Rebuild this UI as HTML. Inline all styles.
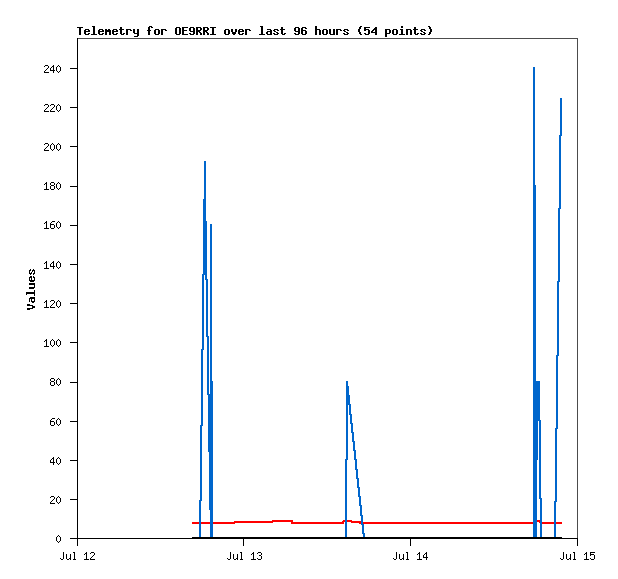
<!DOCTYPE html>
<html><head><meta charset="utf-8"><title>Telemetry for OE9RRI</title>
<style>html,body{margin:0;padding:0;background:#fff;font-family:"Liberation Sans",sans-serif}svg{display:block}</style>
</head><body>
<svg width="618" height="579" viewBox="0 0 618 579" shape-rendering="crispEdges">
<title>Telemetry for OE9RRI over last 96 hours (54 points)</title>
<desc>Line chart. Y axis "Values" 0-240 step 20. X axis Jul 12, Jul 13, Jul 14, Jul 15. Series: blue, red, black.</desc>
<rect width="618" height="579" fill="#ffffff"/>
<path fill="#000000" d="M428 26h2v1h-2zM260 26h3v1h-3zM92 26h3v1h-3zM360 26h2v1h-2zM149 26h3v1h-3zM401 26h2v2h-2zM364 27h6v1h-6zM302 27h4v1h-4zM203 27h5v1h-5zM182 27h6v1h-6zM77 27h6v1h-6zM210 27h6v1h-6zM190 27h4v1h-4zM295 27h4v1h-4zM375 27h2v1h-2zM176 27h4v1h-4zM196 27h5v1h-5zM151 27h2v1h-2zM315 26h2v3h-2zM120 27h2v2h-2zM281 27h2v2h-2zM414 27h2v2h-2zM359 27h2v2h-2zM429 27h2v2h-2zM374 28h3v1h-3zM364 28h2v1h-2zM305 28h2v1h-2zM148 27h2v3h-2zM207 28h2v2h-2zM203 28h2v2h-2zM200 28h2v2h-2zM301 28h2v2h-2zM182 28h2v2h-2zM196 28h2v2h-2zM105 29h2v1h-2zM99 29h4v1h-4zM413 29h5v1h-5zM385 29h5v1h-5zM393 29h4v1h-4zM113 29h4v1h-4zM161 29h5v1h-5zM280 29h5v1h-5zM274 29h4v1h-4zM155 29h4v1h-4zM421 29h4v1h-4zM336 29h5v1h-5zM344 29h4v1h-4zM364 29h5v1h-5zM406 29h5v1h-5zM126 29h5v1h-5zM245 29h5v1h-5zM239 29h4v1h-4zM225 29h4v1h-4zM373 29h4v1h-4zM108 29h2v1h-2zM267 29h4v1h-4zM315 29h5v1h-5zM323 29h4v1h-4zM85 29h4v1h-4zM119 29h5v1h-5zM400 29h3v1h-3zM193 28h2v3h-2zM294 28h2v3h-2zM189 28h2v3h-2zM298 28h2v3h-2zM165 30h2v1h-2zM372 30h2v1h-2zM340 30h2v1h-2zM102 30h2v1h-2zM88 30h2v1h-2zM98 30h2v1h-2zM249 30h2v1h-2zM364 30h2v1h-2zM277 30h2v1h-2zM116 30h2v1h-2zM147 30h4v1h-4zM203 30h5v1h-5zM84 30h2v1h-2zM424 30h2v1h-2zM273 30h2v1h-2zM112 30h2v1h-2zM130 30h2v1h-2zM420 30h2v1h-2zM347 30h2v1h-2zM301 30h5v1h-5zM182 30h5v1h-5zM242 30h2v1h-2zM196 30h5v1h-5zM270 30h2v1h-2zM343 30h2v1h-2zM238 30h2v1h-2zM358 29h2v3h-2zM235 29h2v3h-2zM231 29h2v3h-2zM430 29h2v3h-2zM105 30h6v2h-6zM375 30h2v2h-2zM98 31h6v1h-6zM84 31h6v1h-6zM112 31h6v1h-6zM196 31h4v1h-4zM267 31h5v1h-5zM371 31h2v1h-2zM190 31h5v1h-5zM295 31h5v1h-5zM238 31h6v1h-6zM203 31h4v1h-4zM274 31h2v1h-2zM421 31h2v1h-2zM344 31h2v1h-2zM137 29h2v4h-2zM133 29h2v4h-2zM389 30h2v3h-2zM385 30h2v3h-2zM276 32h2v1h-2zM423 32h2v1h-2zM199 32h2v1h-2zM346 32h2v1h-2zM371 32h6v1h-6zM206 32h2v1h-2zM93 27h2v7h-2zM261 27h2v7h-2zM179 28h2v6h-2zM212 28h2v6h-2zM175 28h2v6h-2zM333 29h2v5h-2zM329 29h2v5h-2zM414 30h2v4h-2zM326 30h2v4h-2zM120 30h2v4h-2zM281 30h2v4h-2zM322 30h2v4h-2zM368 30h2v4h-2zM392 30h2v4h-2zM396 30h2v4h-2zM401 30h2v4h-2zM158 30h2v4h-2zM154 30h2v4h-2zM228 30h2v4h-2zM224 30h2v4h-2zM305 31h2v3h-2zM301 31h2v3h-2zM182 31h2v3h-2zM232 32h4v2h-4zM193 32h2v2h-2zM266 32h2v2h-2zM98 32h2v2h-2zM84 32h2v2h-2zM359 32h2v2h-2zM112 32h2v2h-2zM429 32h2v2h-2zM270 32h2v2h-2zM238 32h2v2h-2zM298 32h2v2h-2zM284 33h2v1h-2zM294 33h2v1h-2zM385 33h5v1h-5zM189 33h2v1h-2zM102 33h2v1h-2zM88 33h2v1h-2zM364 33h2v1h-2zM277 33h2v1h-2zM116 33h2v1h-2zM134 33h5v1h-5zM424 33h2v1h-2zM273 33h2v1h-2zM420 33h2v1h-2zM347 33h2v1h-2zM242 33h2v1h-2zM123 33h2v1h-2zM343 33h2v1h-2zM417 33h2v1h-2zM79 28h2v7h-2zM161 30h2v5h-2zM336 30h2v5h-2zM126 30h2v5h-2zM245 30h2v5h-2zM406 30h2v5h-2zM319 30h2v5h-2zM315 30h2v5h-2zM410 30h2v5h-2zM148 31h2v4h-2zM105 32h2v3h-2zM203 32h2v3h-2zM196 32h2v3h-2zM109 32h2v3h-2zM207 33h2v2h-2zM200 33h2v2h-2zM375 33h2v2h-2zM99 34h4v1h-4zM330 34h5v1h-5zM415 34h3v1h-3zM302 34h4v1h-4zM113 34h4v1h-4zM121 34h3v1h-3zM393 34h4v1h-4zM274 34h4v1h-4zM155 34h4v1h-4zM259 34h6v1h-6zM282 34h3v1h-3zM421 34h4v1h-4zM344 34h4v1h-4zM267 34h5v1h-5zM428 34h2v1h-2zM182 34h6v1h-6zM360 34h2v1h-2zM239 34h4v1h-4zM225 34h4v1h-4zM210 34h6v1h-6zM91 34h6v1h-6zM399 34h6v1h-6zM323 34h4v1h-4zM190 34h4v1h-4zM295 34h4v1h-4zM233 34h2v1h-2zM176 34h4v1h-4zM85 34h4v1h-4zM365 34h4v1h-4zM137 34h2v2h-2zM385 34h2v3h-2zM134 36h4v1h-4zM53 65h1v1h-1zM58 65h1v1h-1zM45 65h3v1h-3zM44 66h1v1h-1zM57 66h1v1h-1zM59 66h1v1h-1zM52 66h2v1h-2zM77 38h1v30h-1zM48 66h1v2h-1zM51 67h1v1h-1zM47 68h1v1h-1zM70 68h8v1h-8zM53 67h1v3h-1zM50 68h1v2h-1zM46 69h1v1h-1zM56 67h1v4h-1zM60 67h1v4h-1zM45 70h1v1h-1zM50 70h5v1h-5zM44 71h1v1h-1zM57 71h1v1h-1zM59 71h1v1h-1zM53 71h1v2h-1zM58 72h1v1h-1zM44 72h5v1h-5zM51 104h3v1h-3zM58 104h1v1h-1zM45 104h3v1h-3zM44 105h1v1h-1zM57 105h1v1h-1zM50 105h1v1h-1zM59 105h1v1h-1zM77 69h1v38h-1zM54 105h1v2h-1zM48 105h1v2h-1zM47 107h1v1h-1zM53 107h1v1h-1zM70 107h8v1h-8zM52 108h1v1h-1zM46 108h1v1h-1zM56 106h1v4h-1zM60 106h1v4h-1zM45 109h1v1h-1zM51 109h1v1h-1zM44 110h1v1h-1zM57 110h1v1h-1zM50 110h1v1h-1zM59 110h1v1h-1zM50 111h5v1h-5zM58 111h1v1h-1zM44 111h5v1h-5zM52 143h1v1h-1zM58 143h1v1h-1zM45 143h3v1h-3zM44 144h1v1h-1zM57 144h1v1h-1zM59 144h1v1h-1zM51 144h1v1h-1zM53 144h1v1h-1zM77 108h1v38h-1zM48 144h1v2h-1zM47 146h1v1h-1zM70 146h8v1h-8zM46 147h1v1h-1zM54 145h1v4h-1zM50 145h1v4h-1zM56 145h1v4h-1zM60 145h1v4h-1zM45 148h1v1h-1zM44 149h1v1h-1zM57 149h1v1h-1zM59 149h1v1h-1zM51 149h1v1h-1zM53 149h1v1h-1zM52 150h1v1h-1zM58 150h1v1h-1zM44 150h5v1h-5zM51 182h3v1h-3zM46 182h1v1h-1zM58 182h1v1h-1zM57 183h1v1h-1zM59 183h1v1h-1zM45 183h2v1h-2zM54 183h1v2h-1zM50 183h1v2h-1zM44 184h1v1h-1zM77 147h1v39h-1zM51 185h3v1h-3zM70 186h8v1h-8zM56 184h1v4h-1zM60 184h1v4h-1zM46 184h1v5h-1zM54 186h1v3h-1zM50 186h1v3h-1zM57 188h1v1h-1zM59 188h1v1h-1zM51 189h3v1h-3zM58 189h1v1h-1zM44 189h5v1h-5zM46 221h1v1h-1zM52 221h3v1h-3zM58 221h1v1h-1zM57 222h1v1h-1zM59 222h1v1h-1zM51 222h1v1h-1zM45 222h2v1h-2zM44 223h1v1h-1zM50 223h1v1h-1zM77 187h1v38h-1zM50 224h4v1h-4zM70 225h8v1h-8zM56 223h1v4h-1zM60 223h1v4h-1zM46 223h1v5h-1zM54 225h1v3h-1zM50 225h1v3h-1zM57 227h1v1h-1zM59 227h1v1h-1zM51 228h3v1h-3zM58 228h1v1h-1zM44 228h5v1h-5zM46 261h1v1h-1zM58 261h1v1h-1zM53 261h1v1h-1zM57 262h1v1h-1zM59 262h1v1h-1zM52 262h2v1h-2zM45 262h2v1h-2zM77 226h1v38h-1zM44 263h1v1h-1zM51 263h1v1h-1zM70 264h8v1h-8zM53 263h1v3h-1zM50 264h1v2h-1zM56 263h1v4h-1zM60 263h1v4h-1zM50 266h5v1h-5zM46 263h1v5h-1zM57 267h1v1h-1zM59 267h1v1h-1zM53 267h1v2h-1zM58 268h1v1h-1zM44 268h5v1h-5zM33 269h1v1h-1zM30 269h1v1h-1zM29 270h2v1h-2zM32 270h3v1h-3zM32 271h1v1h-1zM34 271h1v2h-1zM29 271h1v2h-1zM31 272h1v1h-1zM29 273h3v1h-3zM33 273h2v1h-2zM33 274h1v1h-1zM30 274h1v1h-1zM33 276h1v1h-1zM30 276h2v1h-2zM29 277h3v1h-3zM33 277h2v1h-2zM31 278h1v2h-1zM34 278h1v2h-1zM29 278h1v2h-1zM29 280h6v1h-6zM30 281h4v1h-4zM29 283h6v2h-6zM34 285h1v2h-1zM29 287h6v1h-6zM29 288h5v1h-5zM34 290h1v2h-1zM26 292h9v2h-9zM26 294h1v1h-1zM34 294h1v2h-1zM30 297h5v1h-5zM29 298h6v1h-6zM31 299h1v2h-1zM34 299h1v2h-1zM51 300h3v1h-3zM58 300h1v1h-1zM46 300h1v1h-1zM29 299h1v3h-1zM57 301h1v1h-1zM50 301h1v1h-1zM59 301h1v1h-1zM31 301h4v1h-4zM45 301h2v1h-2zM77 265h1v38h-1zM54 301h1v2h-1zM32 302h2v1h-2zM44 302h1v1h-1zM53 303h1v1h-1zM70 303h8v1h-8zM52 304h1v1h-1zM27 304h3v1h-3zM56 302h1v4h-1zM60 302h1v4h-1zM27 305h6v1h-6zM51 305h1v1h-1zM46 302h1v5h-1zM57 306h1v1h-1zM50 306h1v1h-1zM59 306h1v1h-1zM32 306h3v2h-3zM58 307h1v1h-1zM50 307h5v1h-5zM44 307h5v1h-5zM27 308h6v1h-6zM27 309h3v1h-3zM46 339h1v1h-1zM52 339h1v1h-1zM58 339h1v1h-1zM57 340h1v1h-1zM59 340h1v1h-1zM51 340h1v1h-1zM45 340h2v1h-2zM53 340h1v1h-1zM77 304h1v38h-1zM44 341h1v1h-1zM70 342h8v1h-8zM54 341h1v4h-1zM50 341h1v4h-1zM56 341h1v4h-1zM60 341h1v4h-1zM46 341h1v5h-1zM57 345h1v1h-1zM59 345h1v1h-1zM51 345h1v1h-1zM53 345h1v1h-1zM52 346h1v1h-1zM58 346h1v1h-1zM44 346h5v1h-5zM51 378h3v1h-3zM58 378h1v1h-1zM57 379h1v1h-1zM59 379h1v1h-1zM54 379h1v2h-1zM50 379h1v2h-1zM77 343h1v39h-1zM51 381h3v1h-3zM70 382h8v1h-8zM56 380h1v4h-1zM60 380h1v4h-1zM54 382h1v3h-1zM50 382h1v3h-1zM57 384h1v1h-1zM59 384h1v1h-1zM51 385h3v1h-3zM58 385h1v1h-1zM52 418h3v1h-3zM58 418h1v1h-1zM57 419h1v1h-1zM59 419h1v1h-1zM51 419h1v1h-1zM77 383h1v38h-1zM50 420h1v1h-1zM70 421h8v1h-8zM50 421h4v1h-4zM56 420h1v4h-1zM60 420h1v4h-1zM54 422h1v3h-1zM50 422h1v3h-1zM57 424h1v1h-1zM59 424h1v1h-1zM51 425h3v1h-3zM58 425h1v1h-1zM58 457h1v1h-1zM53 457h1v1h-1zM57 458h1v1h-1zM59 458h1v1h-1zM52 458h2v1h-2zM77 422h1v38h-1zM51 459h1v1h-1zM70 460h8v1h-8zM53 459h1v3h-1zM50 460h1v2h-1zM56 459h1v4h-1zM60 459h1v4h-1zM50 462h5v1h-5zM57 463h1v1h-1zM59 463h1v1h-1zM53 463h1v2h-1zM58 464h1v1h-1zM51 496h3v1h-3zM58 496h1v1h-1zM57 497h1v1h-1zM50 497h1v1h-1zM59 497h1v1h-1zM77 461h1v38h-1zM54 497h1v2h-1zM70 499h8v1h-8zM53 499h1v1h-1zM52 500h1v1h-1zM56 498h1v4h-1zM60 498h1v4h-1zM51 501h1v1h-1zM57 502h1v1h-1zM59 502h1v1h-1zM50 502h1v1h-1zM50 503h5v1h-5zM58 503h1v1h-1zM58 535h1v1h-1zM57 536h1v1h-1zM59 536h1v1h-1zM77 500h1v38h-1zM192 537h370v1h-370zM70 538h508v1h-508zM56 537h1v4h-1zM60 537h1v4h-1zM57 541h1v1h-1zM59 541h1v1h-1zM58 542h1v1h-1zM243 539h1v7h-1zM77 539h1v7h-1zM577 539h1v7h-1zM410 539h1v7h-1zM73 552h2v1h-2zM258 552h3v1h-3zM426 552h1v1h-1zM91 552h3v1h-3zM240 552h2v1h-2zM253 552h1v1h-1zM590 552h5v1h-5zM86 552h1v1h-1zM573 552h2v1h-2zM406 552h2v1h-2zM419 552h1v1h-1zM586 552h1v1h-1zM90 553h1v1h-1zM257 553h1v1h-1zM85 553h2v1h-2zM585 553h2v1h-2zM590 553h1v1h-1zM425 553h2v1h-2zM418 553h2v1h-2zM252 553h2v1h-2zM94 553h1v2h-1zM261 553h1v2h-1zM251 554h1v1h-1zM417 554h1v1h-1zM84 554h1v1h-1zM584 554h1v1h-1zM424 554h1v1h-1zM590 554h4v1h-4zM259 555h2v1h-2zM93 555h1v1h-1zM590 555h1v1h-1zM426 554h1v3h-1zM423 555h1v2h-1zM92 556h1v1h-1zM237 554h1v4h-1zM403 554h1v4h-1zM570 554h1v4h-1zM70 554h1v4h-1zM91 557h1v1h-1zM423 557h5v1h-5zM63 552h1v7h-1zM230 552h1v7h-1zM563 552h1v7h-1zM396 552h1v7h-1zM74 553h1v6h-1zM407 553h1v6h-1zM574 553h1v6h-1zM241 553h1v6h-1zM86 554h1v5h-1zM233 554h1v5h-1zM399 554h1v5h-1zM253 554h1v5h-1zM419 554h1v5h-1zM566 554h1v5h-1zM66 554h1v5h-1zM586 554h1v5h-1zM594 555h1v4h-1zM261 556h1v3h-1zM90 558h1v1h-1zM69 558h2v1h-2zM393 558h1v1h-1zM257 558h1v1h-1zM60 558h1v1h-1zM560 558h1v1h-1zM236 558h2v1h-2zM402 558h2v1h-2zM227 558h1v1h-1zM590 558h1v1h-1zM569 558h2v1h-2zM426 558h1v2h-1zM240 559h3v1h-3zM258 559h3v1h-3zM417 559h5v1h-5zM237 559h1v1h-1zM406 559h3v1h-3zM403 559h1v1h-1zM234 559h2v1h-2zM561 559h2v1h-2zM400 559h2v1h-2zM61 559h2v1h-2zM84 559h5v1h-5zM591 559h3v1h-3zM584 559h5v1h-5zM573 559h3v1h-3zM567 559h2v1h-2zM570 559h1v1h-1zM73 559h3v1h-3zM228 559h2v1h-2zM90 559h5v1h-5zM67 559h2v1h-2zM70 559h1v1h-1zM394 559h2v1h-2zM251 559h5v1h-5z"/>
<path fill="#4C4C4C" d="M78 38h500v1h-500zM577 39h1v499h-1z"/>
<path fill="#0066CC" d="M560 98h2v37h-2zM559 135h3v1h-3zM533 67h2v118h-2zM204 161h2v38h-2zM559 136h2v72h-2zM558 208h3v1h-3zM203 199h3v22h-3zM203 221h4v53h-4zM202 274h5v1h-5zM205 275h2v4h-2zM205 279h3v1h-3zM558 209h2v72h-2zM557 281h3v1h-3zM206 280h2v56h-2zM206 336h3v1h-3zM202 275h2v74h-2zM201 349h3v1h-3zM557 282h2v73h-2zM556 355h3v1h-3zM533 185h3v196h-3zM210 224h2v157h-2zM346 381h2v5h-2zM207 337h2v57h-2zM210 381h3v13h-3zM346 386h3v9h-3zM207 394h6v1h-6zM346 395h4v9h-4zM346 404h5v1h-5zM349 405h2v9h-2zM349 414h3v1h-3zM533 381h7v39h-7zM533 420h8v1h-8zM350 415h2v8h-2zM350 423h3v1h-3zM201 350h2v75h-2zM200 425h3v1h-3zM556 356h2v72h-2zM555 428h3v1h-3zM351 424h2v8h-2zM351 432h3v1h-3zM352 433h2v8h-2zM352 441h3v1h-3zM353 442h2v8h-2zM353 450h3v1h-3zM208 395h5v57h-5zM346 405h2v54h-2zM354 451h2v8h-2zM533 421h5v39h-5zM354 459h3v1h-3zM345 459h3v1h-3zM355 460h2v9h-2zM355 469h3v1h-3zM356 470h2v8h-2zM356 478h3v1h-3zM357 479h2v8h-2zM357 487h3v1h-3zM358 488h2v8h-2zM358 496h3v1h-3zM539 421h2v77h-2zM539 498h3v1h-3zM200 426h2v74h-2zM555 429h2v72h-2zM199 500h3v1h-3zM554 501h3v1h-3zM359 497h2v8h-2zM359 505h3v1h-3zM209 452h4v58h-4zM360 506h2v9h-2zM360 515h3v1h-3zM361 516h2v8h-2zM361 524h3v1h-3zM362 525h2v8h-2zM362 533h3v1h-3zM345 460h2v77h-2zM533 460h4v77h-4zM540 499h2v38h-2zM199 501h2v36h-2zM554 502h2v35h-2zM210 510h3v27h-3zM363 534h2v3h-2z"/>
<path fill="#FF0000" d="M272 520h21v1h-21zM347 520h5v1h-5zM343 520h2v1h-2zM537 520h3v2h-3zM234 521h59v1h-59zM347 521h14v1h-14zM342 521h3v1h-3zM351 522h10v1h-10zM213 522h60v1h-60zM539 522h1v1h-1zM556 522h6v2h-6zM192 522h7v2h-7zM291 522h53v2h-53zM363 522h170v2h-170zM542 522h12v2h-12zM201 522h9v2h-9zM213 523h22v1h-22zM359 523h2v1h-2z"/>
</svg>
</body></html>
